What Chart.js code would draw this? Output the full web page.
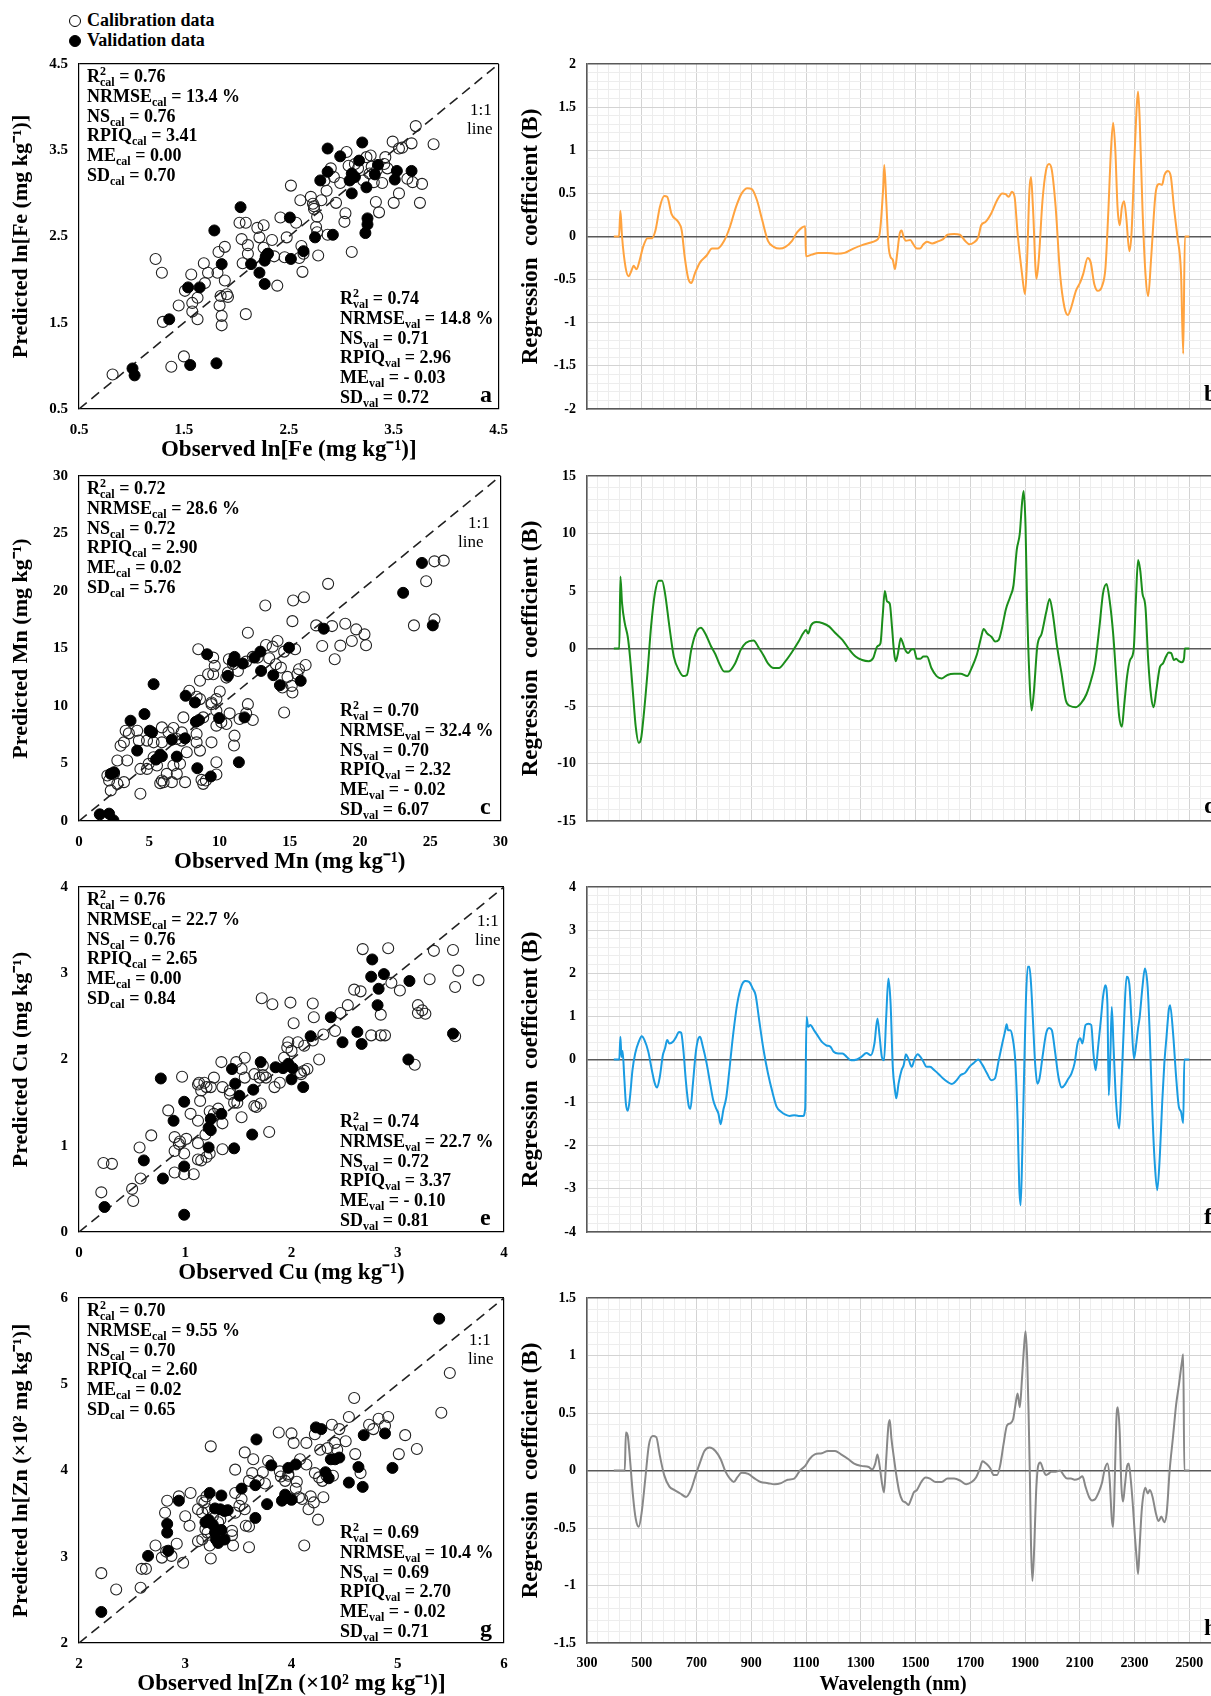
<!DOCTYPE html>
<html>
<head>
<meta charset="utf-8">
<script src="https://cdn.jsdelivr.net/npm/chart.js@4.4.1/dist/chart.umd.min.js"></script>
<style>
html, body { margin: 0; padding: 0; background: #fff; overflow: hidden; width: 1211px; height: 1696px; position: relative; }
canvas { position: absolute; }
.lg { position: absolute; left: 69px; font: bold 18px "Liberation Serif", serif; line-height: 20px; color: #000; white-space: nowrap; }
.dot { display: inline-block; width: 10px; height: 10px; border: 1px solid #000; border-radius: 50%; margin-right: 6px; vertical-align: -1px; box-sizing: content-box; }
.dot.fill { background: #000; }
</style>
</head>
<body>
<div class="lg" style="top:10px"><span class="dot"></span>Calibration data</div>
<div class="lg" style="top:30px"><span class="dot fill"></span>Validation data</div>

<canvas id="pa" width="520" height="422" style="left:0;top:42px"></canvas>
<canvas id="pb" width="760" height="422" style="left:510px;top:42px"></canvas>
<canvas id="pc" width="520" height="422" style="left:0;top:454px"></canvas>
<canvas id="pd" width="760" height="422" style="left:510px;top:454px"></canvas>
<canvas id="pe" width="520" height="422" style="left:0;top:865px"></canvas>
<canvas id="pf" width="760" height="422" style="left:510px;top:865px"></canvas>
<canvas id="pg" width="520" height="422" style="left:0;top:1276px"></canvas>
<canvas id="ph" width="760" height="422" style="left:510px;top:1276px"></canvas>

<script>
const FONT = '"Liberation Serif", "Times New Roman", serif';

// observed vs predicted, [observed, predicted]
const feCal = [[0.82,0.90],[1.38,0.99],[1.50,1.11],[1.23,2.24],[1.29,2.08],[1.30,1.51],[1.45,1.70],[1.51,1.87],[1.57,2.06],[1.58,1.73],[1.58,1.63],[1.63,1.79],[1.63,1.54],[1.69,2.19],[1.70,1.96],[1.73,2.08],[1.83,2.32],[1.82,2.08],[1.84,1.70],[1.86,1.58],[1.86,1.47],[1.85,1.81],[1.89,2.38],[1.89,1.99],[1.91,1.83],[1.92,1.80],[2.03,2.66],[2.05,2.47],[2.06,2.19],[2.09,2.66],[2.09,1.60],[2.11,2.30],[2.11,2.40],[2.20,2.60],[2.22,2.49],[2.26,2.63],[2.26,2.37],[2.30,2.30],[2.34,2.46],[2.36,2.27],[2.42,2.72],[2.39,1.93],[2.46,2.26],[2.48,2.49],[2.52,3.09],[2.57,2.66],[2.60,2.25],[2.61,2.92],[2.62,2.39],[2.63,2.09],[2.64,2.30],[2.71,2.96],[2.73,2.88],[2.74,2.82],[2.74,2.85],[2.76,2.61],[2.77,2.73],[2.77,2.55],[2.78,2.28],[2.81,2.92],[2.84,3.15],[2.86,3.03],[2.87,2.52],[2.90,3.29],[2.93,3.19],[2.95,2.89],[2.99,3.12],[3.04,2.77],[3.03,2.67],[3.05,3.48],[3.07,3.32],[3.10,2.32],[3.13,3.34],[3.16,3.29],[3.21,3.15],[3.24,3.42],[3.28,3.44],[3.29,3.31],[3.31,3.13],[3.33,2.90],[3.36,2.78],[3.39,3.12],[3.41,3.34],[3.44,3.29],[3.49,3.60],[3.50,2.89],[3.55,3.52],[3.55,3.00],[3.58,3.53],[3.63,3.17],[3.67,3.58],[3.68,3.13],[3.71,3.78],[3.75,2.89],[3.77,3.11],[3.88,3.57],[3.27,3.23],[3.42,3.42],[3.34,3.27]];
const feVal = [[2.87,3.52],[3.20,3.59],[2.99,3.43],[2.87,3.25],[2.80,3.15],[3.17,3.38],[3.35,3.33],[3.53,3.26],[3.67,3.26],[3.51,3.16],[3.10,3.23],[3.08,3.15],[3.13,3.19],[3.24,3.07],[3.10,3.00],[3.32,3.22],[3.25,2.71],[3.25,2.64],[3.23,2.54],[2.92,2.52],[2.75,2.49],[2.51,2.72],[2.04,2.84],[1.79,2.57],[1.86,2.18],[2.14,2.18],[2.22,2.08],[2.27,1.95],[2.28,2.27],[2.27,2.22],[2.30,2.30],[2.52,2.24],[2.64,2.33],[1.54,1.91],[1.65,1.91],[1.36,1.54],[1.01,0.97],[1.03,0.89],[1.56,1.01],[1.81,1.03]];

const mnCal = [[25.30,22.58],[25.96,22.64],[24.71,20.85],[23.84,17.01],[25.30,17.53],[17.73,20.62],[15.24,19.17],[16.01,19.46],[13.26,18.74],[12.02,16.37],[15.19,17.38],[16.88,17.01],[17.31,15.22],[18.01,16.95],[18.60,15.25],[18.20,14.06],[18.95,17.15],[19.42,15.65],[19.73,16.66],[20.32,16.23],[20.43,15.28],[14.13,15.65],[13.78,15.16],[14.60,14.73],[15.38,14.93],[15.66,13.20],[15.54,12.76],[16.13,13.57],[14.84,12.53],[15.19,11.18],[15.14,11.75],[14.48,11.61],[14.60,9.44],[14.01,13.63],[13.54,14.15],[13.31,15.30],[12.72,14.21],[12.37,14.27],[11.90,13.86],[11.31,13.05],[10.96,13.63],[10.60,12.91],[10.49,12.47],[10.02,11.26],[9.55,12.76],[9.55,14.21],[9.66,13.49],[9.19,12.76],[8.61,12.19],[8.49,14.93],[7.85,11.32],[8.61,10.60],[8.37,10.80],[9.43,10.31],[9.78,10.60],[9.43,10.16],[9.78,9.59],[10.13,8.58],[10.49,8.43],[8.84,9.01],[9.78,8.29],[11.07,7.42],[11.90,9.36],[12.02,10.16],[11.43,8.87],[12.37,8.78],[11.03,6.56],[7.43,9.01],[7.31,7.71],[5.90,8.14],[6.37,7.71],[6.72,8.09],[7.31,6.99],[8.37,6.84],[8.61,6.12],[6.96,7.13],[5.90,6.84],[5.31,6.84],[5.31,5.54],[4.96,4.97],[4.37,4.53],[4.84,4.53],[5.55,4.82],[3.43,5.26],[3.20,6.84],[3.55,7.62],[3.32,7.85],[2.96,6.55],[2.73,5.26],[2.49,4.10],[2.02,3.96],[2.26,2.66],[3.20,3.38],[4.37,2.37],[5.90,3.52],[5.78,3.29],[4.14,7.85],[4.26,6.99],[4.84,6.99],[6.96,4.10],[7.19,4.97],[7.55,3.38],[9.78,4.04],[8.84,3.23],[9.03,3.52],[8.72,3.58],[9.43,6.84],[9.78,5.11],[6.72,4.82],[6.25,4.10],[6.61,3.38],[6.02,3.38],[2.14,3.52],[2.73,3.23],[10.67,14.06],[10.72,9.36],[8.37,7.57],[7.67,5.98],[14.37,13.34]];
const mnVal = [[24.41,22.44],[23.07,19.84],[25.18,17.01],[17.42,16.72],[14.95,15.07],[12.91,14.73],[12.49,14.21],[11.07,14.27],[10.96,13.86],[11.66,13.69],[10.60,12.62],[12.96,13.05],[13.83,12.68],[14.30,11.81],[15.78,12.19],[7.59,10.89],[8.25,10.31],[9.12,14.50],[5.31,11.90],[4.66,9.30],[3.67,8.72],[4.14,6.12],[5.03,7.85],[5.20,7.71],[5.90,5.63],[5.48,5.34],[5.78,5.78],[6.61,7.07],[6.96,5.60],[7.55,7.19],[8.32,8.63],[8.54,8.78],[9.97,8.95],[11.78,9.01],[8.42,4.59],[9.38,3.87],[11.38,5.11],[1.48,0.58],[2.14,0.64],[2.45,0.06],[2.26,4.10],[2.49,4.24]];

const cuCal = [[2.67,3.28],[2.91,3.29],[3.34,3.26],[3.52,3.27],[3.57,3.03],[3.76,2.92],[3.54,2.84],[3.30,2.93],[3.02,2.80],[2.94,2.89],[2.59,2.81],[2.65,2.79],[2.84,2.52],[3.19,2.63],[3.23,2.57],[3.19,2.54],[3.26,2.53],[3.54,2.27],[2.53,2.63],[2.46,2.54],[2.41,2.33],[2.30,2.29],[2.21,2.49],[2.20,2.65],[1.99,2.66],[1.82,2.64],[1.72,2.71],[2.02,2.42],[1.97,2.20],[1.96,2.14],[2.06,2.20],[2.12,2.16],[2.26,2.00],[2.12,1.87],[2.15,1.89],[2.08,1.85],[2.20,2.22],[2.75,2.28],[2.84,2.28],[2.88,2.28],[3.16,1.94],[1.56,2.02],[1.48,1.97],[1.53,1.89],[1.56,1.79],[1.73,1.93],[1.73,1.82],[1.65,1.83],[1.70,1.79],[1.76,1.79],[1.84,1.68],[1.89,1.73],[2.00,2.10],[1.93,2.02],[1.97,1.93],[2.09,1.83],[1.34,1.97],[1.27,1.79],[1.18,1.73],[1.24,1.68],[1.13,1.73],[1.35,1.68],[1.42,1.64],[1.42,1.60],[1.46,1.50],[1.31,1.43],[1.49,1.50],[1.12,1.71],[1.15,1.64],[1.20,1.68],[1.23,1.40],[1.27,1.37],[1.35,1.26],[1.53,1.33],[1.65,1.46],[1.71,1.49],[1.79,1.16],[1.67,1.45],[1.12,1.29],[1.14,1.52],[1.05,1.37],[0.97,1.80],[0.84,1.41],[1.01,1.08],[0.90,1.10],[0.95,1.05],[0.94,1.02],[0.90,0.94],[0.99,0.91],[1.12,1.03],[1.15,0.83],[1.23,0.91],[1.35,0.96],[1.12,0.84],[1.20,0.87],[1.08,0.67],[0.90,0.69],[0.99,0.67],[0.57,0.98],[0.68,1.12],[0.58,0.62],[0.50,0.50],[0.51,0.36],[0.23,0.80],[0.31,0.79],[0.21,0.46],[1.19,1.13]];
const cuVal = [[2.76,3.16],[2.75,2.96],[2.87,2.99],[2.82,2.82],[2.81,2.63],[3.11,2.91],[2.37,2.49],[2.48,2.20],[2.62,2.32],[2.66,2.18],[3.52,2.30],[3.10,2.00],[2.18,2.27],[1.97,1.95],[1.92,1.90],[2.01,1.90],[2.00,1.77],[2.11,1.68],[1.85,1.91],[1.71,1.97],[1.44,1.89],[1.47,1.72],[1.51,1.58],[1.64,1.65],[1.34,1.37],[1.24,1.31],[1.22,1.21],[1.24,1.18],[0.99,1.51],[0.89,1.29],[0.77,1.78],[0.61,0.83],[0.79,0.62],[0.24,0.29],[1.22,0.98],[1.46,0.97],[1.63,1.13],[0.99,0.76],[0.99,0.20]];

const znCal = [[5.49,5.13],[5.41,4.67],[4.59,4.84],[4.82,4.60],[4.91,4.62],[4.73,4.53],[4.54,4.62],[4.38,4.53],[4.45,4.48],[4.41,4.32],[4.22,4.42],[3.88,4.44],[4.00,4.43],[4.02,4.32],[4.14,4.32],[4.27,4.24],[4.34,4.26],[4.43,4.24],[4.51,4.34],[4.60,4.19],[5.01,4.19],[5.18,4.25],[5.07,4.41],[4.88,4.52],[4.77,4.48],[3.56,4.21],[3.64,4.13],[3.24,4.28],[3.47,4.01],[4.08,4.13],[4.14,4.07],[4.22,3.97],[4.26,3.92],[4.29,3.88],[4.33,3.94],[4.39,3.94],[4.65,3.97],[4.05,3.87],[4.04,3.79],[4.00,3.67],[4.07,3.69],[4.10,3.67],[4.21,3.63],[3.97,3.96],[3.89,3.99],[3.90,3.93],[3.78,4.11],[3.73,3.98],[3.69,3.88],[3.75,3.85],[3.63,3.97],[3.60,3.88],[3.53,3.67],[3.47,3.74],[3.51,3.59],[3.56,3.55],[3.47,3.51],[3.57,3.36],[3.60,3.35],[3.44,3.30],[3.44,3.25],[3.45,3.13],[3.31,3.40],[3.33,3.43],[3.26,3.47],[3.21,3.55],[3.18,3.63],[3.20,3.70],[3.16,3.65],[3.12,3.55],[3.16,3.51],[3.19,3.32],[3.21,3.28],[3.23,3.13],[3.24,2.98],[3.05,3.74],[2.94,3.70],[2.83,3.65],[2.81,3.51],[3.00,3.47],[3.04,3.36],[3.16,3.20],[3.12,3.18],[2.92,3.15],[2.98,2.93],[2.87,3.01],[2.82,3.06],[2.78,2.99],[2.72,3.13],[2.59,2.86],[2.63,2.86],[2.58,2.64],[2.35,2.62],[2.21,2.81],[4.12,3.13],[4.25,3.43],[4.16,3.55],[4.18,3.70],[3.94,3.88],[3.97,3.94],[3.60,3.11],[4.30,3.69]];
const znVal = [[5.39,5.76],[4.23,4.50],[4.28,4.48],[4.68,4.41],[4.88,4.43],[3.67,4.36],[3.81,4.06],[3.97,4.03],[4.04,4.07],[4.32,3.98],[4.37,4.13],[4.41,4.13],[4.45,4.15],[4.35,3.91],[4.54,3.86],[4.63,4.04],[4.67,3.81],[4.95,4.03],[3.66,3.83],[3.77,3.61],[3.53,3.79],[3.23,3.74],[3.34,3.71],[3.28,3.56],[3.33,3.55],[3.37,3.53],[3.40,3.54],[3.91,3.65],[3.94,3.72],[4.00,3.66],[3.66,3.45],[3.22,3.43],[3.26,3.37],[3.19,3.40],[3.28,3.28],[3.34,3.31],[3.29,3.20],[3.37,3.20],[3.31,3.16],[2.94,3.65],[2.83,3.38],[2.83,3.28],[2.84,3.07],[2.65,3.01],[2.21,2.36]];

// regression coefficients, [wavelength nm, B]
const feCoef = [[398,0],[417,0],[422,0.30],[428,0],[441,-0.36],[452,-0.46],[462,-0.40],[470,-0.34],[481,-0.38],[492,-0.28],[505,-0.12],[521,-0.02],[537,-0.02],[550,0.07],[566,0.34],[582,0.47],[593,0.46],[609,0.26],[633,0.17],[646,0.07],[657,-0.24],[670,-0.49],[681,-0.54],[694,-0.43],[713,-0.30],[737,-0.22],[757,-0.14],[777,-0.14],[801,-0.05],[822,0.11],[844,0.34],[865,0.50],[886,0.56],[902,0.55],[921,0.42],[940,0.19],[961,-0.05],[982,-0.12],[1004,-0.14],[1025,-0.12],[1049,-0.05],[1068,0.05],[1097,0.12],[1100,-0.23],[1121,-0.21],[1145,-0.19],[1177,-0.19],[1209,-0.20],[1241,-0.19],[1273,-0.14],[1305,-0.10],[1337,-0.07],[1353,-0.05],[1366,-0.01],[1372,0.11],[1382,0.57],[1386,0.83],[1393,0.42],[1401,-0.09],[1409,-0.24],[1417,-0.27],[1425,-0.38],[1433,-0.20],[1442,0.03],[1449,0.07],[1457,-0.01],[1465,-0.05],[1481,-0.04],[1492,-0.09],[1505,-0.14],[1516,-0.14],[1529,-0.09],[1542,-0.06],[1561,-0.08],[1580,-0.06],[1601,-0.03],[1617,0.02],[1641,0.03],[1662,0.02],[1681,-0.05],[1697,-0.09],[1713,-0.07],[1729,-0.01],[1740,0.13],[1756,0.17],[1777,0.27],[1798,0.42],[1817,0.50],[1829,0.49],[1841,0.46],[1852,0.52],[1862,0.46],[1873,0.03],[1889,-0.43],[1900,-0.67],[1908,-0.24],[1916,0.53],[1922,0.69],[1929,0.34],[1942,-0.49],[1950,-0.28],[1964,0.42],[1977,0.77],[1988,0.84],[1998,0.77],[2012,0.34],[2028,-0.43],[2044,-0.82],[2057,-0.91],[2069,-0.82],[2086,-0.63],[2102,-0.53],[2113,-0.43],[2129,-0.25],[2140,-0.30],[2153,-0.55],[2166,-0.63],[2182,-0.57],[2194,-0.36],[2204,0.26],[2214,1.00],[2222,1.32],[2230,1.00],[2238,0.34],[2246,0.13],[2254,0.34],[2262,0.41],[2270,0.22],[2281,-0.17],[2289,0.03],[2300,0.92],[2308,1.50],[2313,1.68],[2319,1.35],[2329,0.34],[2340,-0.43],[2350,-0.69],[2361,-0.24],[2377,0.50],[2390,0.61],[2401,0.60],[2409,0.71],[2422,0.76],[2433,0.69],[2444,0.34],[2457,-0.01],[2470,-0.43],[2478,-1.36],[2484,0],[2500,0]];
const mnCoef = [[398,0],[418,0],[422,6.26],[428,3.94],[438,2.2],[449,1.0],[457,-0.7],[468,-3.9],[478,-6.8],[489,-8.2],[497,-7.9],[508,-5.6],[521,-2.1],[534,1.9],[548,4.8],[562,5.9],[574,5.9],[585,4.8],[601,1.9],[617,-0.7],[636,-1.9],[652,-2.4],[665,-2.3],[681,-0.1],[697,1.3],[716,1.8],[732,1.3],[753,0.2],[769,-0.5],[785,-1.4],[801,-2.0],[817,-2.0],[841,-1.3],[862,-0.1],[881,0.5],[908,0.7],[929,0.0],[945,-0.6],[961,-1.3],[982,-1.7],[1001,-1.7],[1025,-1.1],[1049,-0.3],[1073,0.6],[1089,1.3],[1100,1.6],[1108,1.3],[1118,2.0],[1137,2.3],[1161,2.2],[1185,1.9],[1209,1.3],[1233,0.75],[1257,-0.05],[1281,-0.7],[1305,-1.0],[1329,-1.1],[1345,-0.85],[1361,0.2],[1372,0.45],[1380,2.8],[1388,5.0],[1396,4.1],[1406,3.9],[1414,1.9],[1422,-0.4],[1428,-1.1],[1436,-0.4],[1446,0.9],[1452,0.6],[1462,-0.1],[1473,-0.4],[1484,-0.1],[1494,-0.05],[1505,-0.9],[1518,-0.9],[1529,-0.7],[1542,-0.7],[1558,-1.7],[1577,-2.4],[1596,-2.6],[1617,-2.3],[1641,-2.2],[1665,-2.2],[1689,-2.4],[1705,-1.7],[1724,-0.55],[1740,1.0],[1749,1.7],[1762,1.3],[1778,1.0],[1791,0.6],[1804,0.75],[1817,1.9],[1830,3.4],[1846,4.5],[1858,5.5],[1870,8.6],[1881,10.0],[1889,12.6],[1895,13.7],[1902,10.6],[1908,3.4],[1916,-2.4],[1924,-5.4],[1932,-3.9],[1945,0.2],[1961,1.3],[1977,3.1],[1990,4.3],[2001,3.1],[2017,0.2],[2033,-2.1],[2049,-4.5],[2065,-5.0],[2086,-5.1],[2105,-4.75],[2124,-4.0],[2142,-2.7],[2156,-1.3],[2172,1.9],[2185,4.8],[2198,5.6],[2209,4.2],[2222,1.3],[2233,-2.4],[2244,-5.9],[2254,-6.8],[2262,-5.0],[2273,-2.4],[2284,-1.0],[2297,-0.1],[2305,4.2],[2313,7.7],[2321,6.8],[2329,4.8],[2340,3.6],[2350,-1.0],[2361,-4.2],[2370,-5.1],[2380,-3.6],[2393,-1.6],[2404,-1.3],[2415,-0.7],[2425,-0.35],[2434,-0.4],[2444,-1.0],[2452,-0.9],[2462,-1.1],[2473,-1.2],[2481,-0.85],[2484,0],[2500,0]];
const cuCoef = [[398,0],[418,0],[422,0.53],[426,0.06],[430,0.2],[436,-0.4],[442,-1.02],[449,-1.19],[457,-0.87],[466,-0.25],[476,0.14],[489,0.41],[500,0.54],[510,0.45],[524,0.18],[537,-0.25],[548,-0.56],[556,-0.65],[566,-0.4],[577,0.1],[585,0.26],[593,0.45],[601,0.37],[614,0.41],[626,0.53],[636,0.64],[644,0.62],[652,0.22],[662,-0.56],[671,-1.06],[678,-1.14],[686,-0.63],[697,0.14],[705,0.45],[713,0.53],[722,0.33],[737,-0.09],[750,-0.56],[761,-0.94],[772,-1.14],[780,-1.25],[788,-1.5],[798,-1.17],[809,-0.87],[820,-0.25],[833,0.53],[849,1.3],[865,1.72],[878,1.82],[892,1.8],[905,1.65],[916,1.49],[929,0.91],[945,0.22],[961,-0.32],[977,-0.75],[993,-1.1],[1009,-1.21],[1025,-1.28],[1041,-1.31],[1057,-1.29],[1073,-1.31],[1089,-1.31],[1097,-1.14],[1102,0.99],[1108,0.76],[1116,0.8],[1129,0.68],[1142,0.56],[1158,0.41],[1174,0.33],[1190,0.29],[1201,0.18],[1217,0.14],[1233,0.14],[1249,0.06],[1265,-0.02],[1286,0],[1302,0.06],[1321,0.15],[1337,0.1],[1350,0.37],[1361,0.95],[1369,0.53],[1377,0.06],[1385,-0.02],[1393,0.99],[1401,1.88],[1409,1.3],[1417,-0.17],[1425,-0.71],[1430,-0.9],[1438,-0.56],[1449,-0.25],[1457,-0.13],[1465,0.12],[1474,0.02],[1486,-0.17],[1497,0.02],[1508,0.12],[1518,0.06],[1529,-0.05],[1540,-0.17],[1553,-0.17],[1569,-0.25],[1585,-0.34],[1601,-0.44],[1617,-0.52],[1633,-0.57],[1649,-0.49],[1665,-0.36],[1681,-0.31],[1697,-0.17],[1713,-0.08],[1729,0],[1745,-0.13],[1761,-0.32],[1777,-0.48],[1790,-0.44],[1804,-0.02],[1817,0.37],[1828,0.68],[1833,0.82],[1838,0.68],[1846,0.68],[1854,0.53],[1865,-0.09],[1873,-1.41],[1879,-2.95],[1884,-3.38],[1890,-2.18],[1897,-0.25],[1903,1.3],[1910,2.15],[1916,2.15],[1922,1.76],[1929,0.91],[1937,-0.09],[1945,-0.56],[1953,-0.44],[1964,0.06],[1977,0.6],[1988,0.73],[1998,0.68],[2009,0.22],[2022,-0.4],[2034,-0.65],[2044,-0.6],[2057,-0.46],[2070,-0.32],[2081,-0.09],[2092,0.37],[2102,0.49],[2110,0.37],[2121,0.8],[2132,0.83],[2142,0.8],[2150,0.14],[2158,-0.25],[2166,0.22],[2177,0.91],[2185,1.45],[2193,1.72],[2201,1.3],[2206,-0.83],[2212,0.14],[2217,1.22],[2223,0.37],[2233,-1.02],[2244,-1.6],[2252,-0.63],[2262,0.91],[2271,1.92],[2281,1.76],[2289,0.91],[2298,0.02],[2305,0.29],[2313,0.72],[2319,0.99],[2329,1.68],[2338,2.11],[2348,1.68],[2356,0.53],[2364,-1.02],[2374,-2.41],[2383,-3.03],[2393,-2.18],[2401,-1.02],[2409,-0.09],[2417,0.53],[2425,1.14],[2430,1.26],[2441,0.6],[2452,-0.4],[2462,-1.1],[2470,-1.21],[2478,-1.47],[2482,0],[2500,0]];
const znCoef = [[398,0],[438,0],[442,0.33],[449,0.3],[457,0.1],[468,-0.22],[478,-0.42],[489,-0.49],[500,-0.36],[513,-0.07],[526,0.22],[540,0.3],[553,0.29],[566,0.13],[582,-0.04],[601,-0.14],[620,-0.17],[641,-0.2],[662,-0.23],[681,-0.16],[697,-0.04],[713,0.07],[729,0.17],[748,0.2],[769,0.17],[788,0.1],[806,-0.01],[822,-0.07],[836,-0.1],[849,-0.06],[865,-0.02],[889,-0.03],[913,-0.07],[934,-0.1],[961,-0.11],[985,-0.12],[1009,-0.11],[1033,-0.08],[1057,-0.07],[1078,0],[1097,0.04],[1113,0.1],[1132,0.14],[1158,0.15],[1180,0.17],[1206,0.17],[1228,0.14],[1254,0.1],[1276,0.06],[1302,0.04],[1329,0.03],[1342,0.01],[1353,0.06],[1361,0.14],[1369,0.04],[1377,-0.1],[1385,-0.19],[1393,0.1],[1401,0.39],[1406,0.44],[1412,0.28],[1420,0.13],[1430,-0.04],[1441,-0.19],[1452,-0.26],[1465,-0.28],[1474,-0.3],[1484,-0.25],[1494,-0.19],[1505,-0.17],[1521,-0.1],[1537,-0.06],[1553,-0.07],[1574,-0.1],[1596,-0.1],[1617,-0.07],[1641,-0.07],[1665,-0.09],[1685,-0.12],[1705,-0.1],[1721,-0.06],[1734,0.01],[1745,0.08],[1758,0.06],[1773,0.02],[1786,-0.04],[1798,-0.04],[1809,0.04],[1821,0.22],[1834,0.39],[1846,0.41],[1857,0.45],[1865,0.57],[1873,0.67],[1881,0.55],[1889,0.8],[1897,1.09],[1902,1.21],[1908,0.97],[1913,0.51],[1918,-0.07],[1922,-0.65],[1927,-0.96],[1934,-0.65],[1940,-0.22],[1948,0.04],[1956,0.07],[1966,0.01],[1977,-0.04],[1985,-0.03],[1996,-0.01],[2012,-0.01],[2028,0],[2041,-0.04],[2054,-0.07],[2068,-0.07],[2081,-0.08],[2097,-0.07],[2110,-0.05],[2121,-0.14],[2134,-0.23],[2145,-0.26],[2156,-0.25],[2169,-0.19],[2182,-0.1],[2190,0],[2201,0.06],[2209,-0.07],[2217,-0.42],[2222,-0.49],[2228,-0.07],[2234,0.45],[2239,0.55],[2246,0.33],[2252,-0.13],[2258,-0.27],[2265,-0.13],[2273,0.04],[2279,0.06],[2286,-0.07],[2294,-0.3],[2302,-0.59],[2308,-0.77],[2313,-0.9],[2319,-0.65],[2326,-0.36],[2332,-0.22],[2340,-0.15],[2348,-0.2],[2356,-0.17],[2366,-0.23],[2377,-0.36],[2388,-0.44],[2398,-0.4],[2409,-0.45],[2418,-0.36],[2428,-0.01],[2441,0.3],[2452,0.57],[2462,0.74],[2473,0.94],[2478,1.01],[2482,0],[2500,0]];

// statistics shown in each scatter panel
const statNames = ['R', 'NRMSE', 'NS', 'RPIQ', 'ME', 'SD'];
const feStatCal = ['0.76', '13.4 %', '0.76', '3.41', '0.00', '0.70'];
const feStatVal = ['0.74', '14.8 %', '0.71', '2.96', '- 0.03', '0.72'];
const mnStatCal = ['0.72', '28.6 %', '0.72', '2.90', '0.02', '5.76'];
const mnStatVal = ['0.70', '32.4 %', '0.70', '2.32', '- 0.02', '6.07'];
const cuStatCal = ['0.76', '22.7 %', '0.76', '2.65', '0.00', '0.84'];
const cuStatVal = ['0.74', '22.7 %', '0.72', '3.37', '- 0.10', '0.81'];
const znStatCal = ['0.70', '9.55 %', '0.70', '2.60', '0.02', '0.65'];
const znStatVal = ['0.69', '10.4 %', '0.69', '2.70', '- 0.02', '0.71'];

const wlLabels = [300, 500, 700, 900, 1100, 1300, 1500, 1700, 1900, 2100, 2300, 2500];

function makeTicks(min, max, step) {
  const out = [];
  const n = Math.round((max - min) / step);
  for (let i = 0; i <= n; i++) out.push({ value: +(min + i * step).toFixed(4) });
  return out;
}
function isMult(v, base, step) {
  const q = (v - base) / step;
  return Math.abs(q - Math.round(q)) < 1e-6;
}
function fmt(v) { return String(+v.toFixed(3)); }
function pts(arr) { return arr.map(([x, y]) => ({ x, y })); }

function drawStatLine(ctx, x, y, name, sub, val) {
  ctx.font = 'bold 18px ' + FONT;
  ctx.fillText(name, x, y);
  let cx = x + ctx.measureText(name).width;
  ctx.font = 'bold 12px ' + FONT;
  let w = 0;
  if (name === 'R') {
    ctx.fillText('2', cx, y - 7);
    w = ctx.measureText('2').width;
  }
  ctx.fillText(sub, cx, y + 4);
  w = Math.max(w, ctx.measureText(sub).width);
  cx += w;
  ctx.font = 'bold 18px ' + FONT;
  ctx.fillText(' = ' + val, cx, y);
}

function scatterNotes(p) {
  return {
    id: 'notes',
    afterDraw(chart) {
      const { ctx, chartArea: a } = chart;
      ctx.save();
      ctx.fillStyle = '#000';
      ctx.textBaseline = 'alphabetic';
      ctx.textAlign = 'left';
      statNames.forEach((n, i) => {
        drawStatLine(ctx, a.left + 8, a.top + 18 + i * 19.8, n, 'cal', p.statCal[i]);
        drawStatLine(ctx, a.left + 261, a.top + 240 + i * 19.8, n, 'val', p.statVal[i]);
      });
      ctx.font = '17px ' + FONT;
      ctx.fillText('1:1', a.left + p.one[0], a.top + p.one[1]);
      ctx.fillText('line', a.left + p.one[2], a.top + p.one[1] + 19);
      ctx.font = 'bold 24px ' + FONT;
      ctx.fillText(p.letter, a.left + 401, a.top + 338);
      ctx.restore();
    }
  };
}

function scatterAxis(dir, lo, hi, step, title) {
  return {
    type: 'linear', min: lo, max: hi,
    afterBuildTicks: s => { s.ticks = makeTicks(lo, hi, step); },
    afterFit: s => { if (dir === 'x') s.height = 55; else s.width = 79; },
    grid: {
      drawTicks: false,
      color: c => (c.tick && Math.abs(c.tick.value - hi) < 1e-6) ? '#000' : 'rgba(0,0,0,0)',
      lineWidth: 1.2
    },
    border: { color: '#000', width: 1.2 },
    ticks: {
      autoSkip: false, maxRotation: 0, padding: dir === 'x' ? 12 : 11, color: '#000',
      font: { family: FONT, weight: 'bold', size: 15 },
      callback: v => fmt(v)
    },
    title: {
      display: true, text: title, color: '#000',
      font: { family: FONT, weight: 'bold', size: dir === 'x' ? 23 : 22 },
      padding: dir === 'x' ? { top: 0, bottom: 0 } : { top: 8, bottom: 0 }
    }
  };
}

function scatterPanel(id, p) {
  new Chart(document.getElementById(id), {
    type: 'scatter',
    data: {
      datasets: [
        { label: 'Validation data', data: pts(p.val), pointRadius: 5.5, backgroundColor: '#000', borderColor: '#000', borderWidth: 1, order: 0 },
        { label: 'Calibration data', data: pts(p.cal), pointRadius: 5.5, backgroundColor: 'rgba(0,0,0,0)', borderColor: '#222', borderWidth: 1.1, order: 1 },
        { type: 'line', label: '1:1 line', data: [{ x: p.lo, y: p.lo }, { x: p.hi, y: p.hi }], borderColor: '#222', borderWidth: 1.6, borderDash: [10, 6], pointRadius: 0, order: 2 }
      ]
    },
    options: {
      responsive: false, animation: false,
      layout: { padding: { top: 22, right: 16, left: 0, bottom: 0 } },
      plugins: { legend: { display: false }, tooltip: { enabled: false } },
      scales: {
        x: scatterAxis('x', p.lo, p.hi, p.step, p.xTitle),
        y: scatterAxis('y', p.lo, p.hi, p.step, p.yTitle)
      }
    },
    plugins: [scatterNotes(p)]
  });
}

function spectrumPanel(id, p) {
  const major = p.major, minor = p.major / 5;
  const yLine = c => {
    if (!c.tick) return '#595959';
    const v = c.tick.value;
    if (Math.abs(v) < 1e-9 || Math.abs(v - p.hi) < 1e-9) return '#595959';
    return isMult(v, 0, major) ? '#d3d3d3' : '#ededed';
  };
  new Chart(document.getElementById(id), {
    type: 'line',
    data: {
      datasets: [{ data: pts(p.coef), borderColor: p.color, borderWidth: 2, pointRadius: 0, cubicInterpolationMode: 'monotone', fill: false }]
    },
    options: {
      responsive: false, animation: false,
      layout: { padding: { top: 22, right: 26, left: 0, bottom: 0 } },
      plugins: { legend: { display: false }, tooltip: { enabled: false } },
      scales: {
        x: {
          type: 'linear', min: 300, max: 2700,
          afterBuildTicks: s => { s.ticks = makeTicks(300, 2700, 40); },
          afterFit: s => { s.height = 55; },
          grid: { drawTicks: false, color: c => (c.tick && isMult(c.tick.value, 300, 200)) ? '#d3d3d3' : '#ededed', lineWidth: 1 },
          border: { color: '#595959', width: 1.5 },
          ticks: {
            display: p.showX, autoSkip: false, maxRotation: 0, padding: 12, color: '#000',
            font: { family: FONT, weight: 'bold', size: 14 },
            callback: v => wlLabels.includes(Math.round(v)) ? String(Math.round(v)) : ''
          },
          title: {
            display: p.showX, text: 'Wavelength (nm)' + '\u00a0'.repeat(9), color: '#000',
            font: { family: FONT, weight: 'bold', size: 20 }, padding: { top: 0, bottom: 1 }
          }
        },
        y: {
          type: 'linear', min: p.lo, max: p.hi,
          afterBuildTicks: s => { s.ticks = makeTicks(p.lo, p.hi, minor); },
          afterFit: s => { s.width = 77; },
          grid: { drawTicks: false, color: yLine, lineWidth: c => yLine(c) === '#595959' ? 1.5 : 1 },
          border: { color: '#595959', width: 1.5 },
          ticks: {
            autoSkip: false, padding: 11, color: '#000',
            font: { family: FONT, weight: 'bold', size: 14 },
            callback: v => isMult(v, 0, major) ? fmt(v) : ''
          },
          title: {
            display: true, text: 'Regression  coefficient (B)', color: '#000',
            font: { family: FONT, weight: 'bold', size: 23 }, padding: { top: 7, bottom: 0 }
          }
        }
      }
    },
    plugins: [{
      id: 'letter',
      afterDraw(chart) {
        const { ctx, chartArea: a } = chart;
        ctx.save();
        ctx.fillStyle = '#000';
        ctx.font = 'bold 24px ' + FONT;
        ctx.fillText(p.letter, a.left + 617, a.top + 337);
        ctx.restore();
      }
    }]
  });
}

scatterPanel('pa', { cal: feCal, val: feVal, lo: 0.5, hi: 4.5, step: 1, statCal: feStatCal, statVal: feStatVal, letter: 'a', one: [391, 51, 388],
  xTitle: 'Observed ln[Fe (mg kg\u207B\u00B9)]', yTitle: 'Predicted ln[Fe (mg kg\u207B\u00B9)]' });
scatterPanel('pc', { cal: mnCal, val: mnVal, lo: 0, hi: 30, step: 5, statCal: mnStatCal, statVal: mnStatVal, letter: 'c', one: [389, 52, 379],
  xTitle: 'Observed Mn (mg kg\u207B\u00B9)', yTitle: 'Predicted Mn (mg kg\u207B\u00B9)' });
scatterPanel('pe', { cal: cuCal, val: cuVal, lo: 0, hi: 4, step: 1, statCal: cuStatCal, statVal: cuStatVal, letter: 'e', one: [398, 39, 396],
  xTitle: 'Observed Cu (mg kg\u207B\u00B9)', yTitle: 'Predicted Cu (mg kg\u207B\u00B9)' });
scatterPanel('pg', { cal: znCal, val: znVal, lo: 2, hi: 6, step: 1, statCal: znStatCal, statVal: znStatVal, letter: 'g', one: [390, 47, 389],
  xTitle: 'Observed ln[Zn (\u00D710\u00B2 mg kg\u207B\u00B9)]', yTitle: 'Predicted ln[Zn (\u00D710\u00B2 mg kg\u207B\u00B9)]' });

spectrumPanel('pb', { coef: feCoef, lo: -2, hi: 2, major: 0.5, color: '#FFA33F', letter: 'b', showX: false });
spectrumPanel('pd', { coef: mnCoef, lo: -15, hi: 15, major: 5, color: '#1B8E1B', letter: 'd', showX: false });
spectrumPanel('pf', { coef: cuCoef, lo: -4, hi: 4, major: 1, color: '#1A9CE2', letter: 'f', showX: false });
spectrumPanel('ph', { coef: znCoef, lo: -1.5, hi: 1.5, major: 0.5, color: '#888888', letter: 'h', showX: true });
</script>
</body>
</html>
